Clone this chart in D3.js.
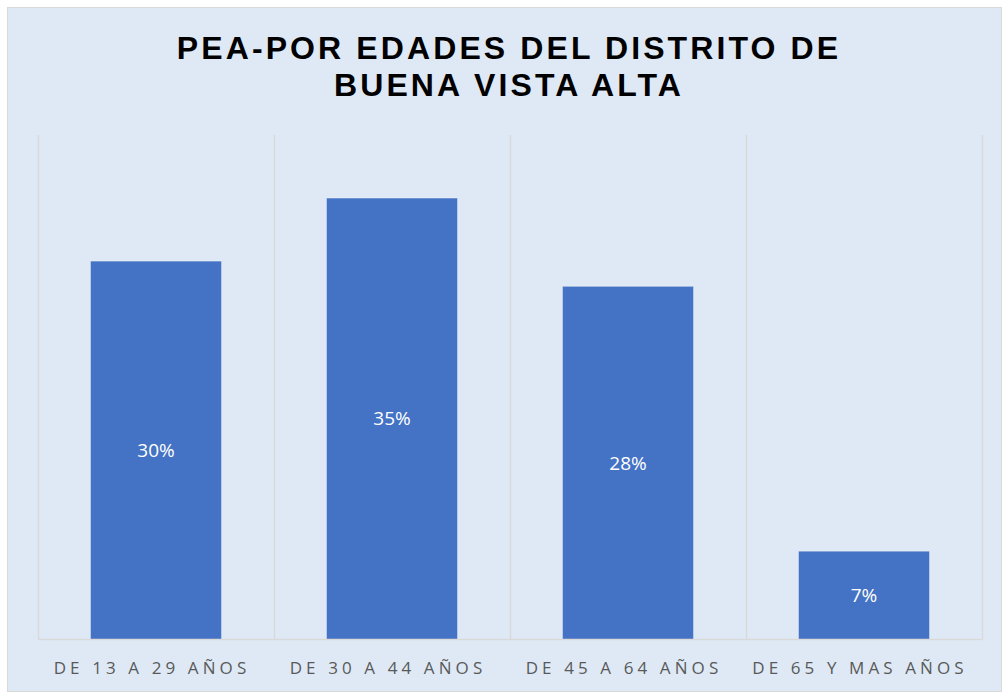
<!DOCTYPE html>
<html>
<head>
<meta charset="utf-8">
<style>
  body { margin: 0; background: #fff; overflow: hidden; }
  .title { font: bold 32px "Liberation Sans", Arial, sans-serif; letter-spacing: 3.1px; fill: #000; text-anchor: middle; }
  .xlab { font: 17px "Open Sans", sans-serif; letter-spacing: 4.1px; fill: #595959; text-anchor: middle; }
  .val { font: 19px "Open Sans", sans-serif; fill: #fff; text-anchor: middle; }
</style>
<script src="https://d3js.org/d3.v7.min.js"></script>
</head>
<body>
<svg width="1003" height="693"></svg>
<script>
var categories = ["DE 13 A 29 AÑOS", "DE 30 A 44 AÑOS", "DE 45 A 64 AÑOS", "DE 65 Y MAS AÑOS"];
var values = [30, 35, 28, 7];
var valueLabels = ["30%", "35%", "28%", "7%"];
var titleLines = ["PEA-POR EDADES DEL DISTRITO DE", "BUENA VISTA ALTA"];

var svg = d3.select("svg");
var W = 1003, H = 693;

// background / frame
svg.append("rect").attr("x", 7.5).attr("y", 7.5).attr("width", W - 9).attr("height", H - 9)
  .attr("fill", "#dee9f5").attr("stroke", "#d9d9d9").attr("stroke-width", 1);

var plotLeft = 38, plotRight = 982, plotTop = 135, plotBottom = 639.5;

var x = d3.scaleBand().domain(categories).range([plotLeft, plotRight]).paddingInner(0).paddingOuter(0);
var y = d3.scaleLinear().domain([0, 40]).range([plotBottom, plotTop]);

// vertical gridlines at category boundaries
var bounds = categories.map(function (c) { return x(c); }).concat([plotRight]);
svg.append("g").selectAll("line").data(bounds).enter().append("line")
  .attr("x1", function (d) { return Math.round(d) + 0.5; })
  .attr("x2", function (d) { return Math.round(d) + 0.5; })
  .attr("y1", plotTop).attr("y2", plotBottom)
  .attr("stroke", "#d9d9d9").attr("stroke-width", 1.5);

// bars
var barW = x.bandwidth() * 0.555;
svg.append("g").selectAll("rect").data(values).enter().append("rect")
  .attr("x", function (d, i) { return x(categories[i]) + (x.bandwidth() - barW) / 2; })
  .attr("y", function (d) { return y(d); })
  .attr("width", barW)
  .attr("height", function (d) { return y(0) - y(d); })
  .attr("fill", "#4472c4")
  .attr("stroke", "rgba(255,255,255,0.35)").attr("stroke-width", 1);

// baseline
svg.append("line").attr("x1", plotLeft).attr("x2", plotRight).attr("y1", plotBottom).attr("y2", plotBottom)
  .attr("stroke", "#d9d9d9").attr("stroke-width", 1.5);

// value labels
svg.append("g").selectAll("text").data(values).enter().append("text")
  .attr("class", "val")
  .attr("x", function (d, i) { return x(categories[i]) + x.bandwidth() / 2; })
  .attr("y", function (d) { return (y(d) + y(0)) / 2; })
  .attr("dy", "0.35em")
  .text(function (d, i) { return valueLabels[i]; });

// x axis labels
svg.append("g").selectAll("text").data(categories).enter().append("text")
  .attr("class", "xlab")
  .attr("x", function (d) { return x(d) + x.bandwidth() / 2 - 4; })
  .attr("y", 674)
  .text(function (d) { return d; });

// title
svg.append("g").selectAll("text").data(titleLines).enter().append("text")
  .attr("class", "title")
  .attr("x", 509)
  .attr("y", function (d, i) { return 59 + i * 37; })
  .text(function (d) { return d; });
</script>
</body>
</html>
